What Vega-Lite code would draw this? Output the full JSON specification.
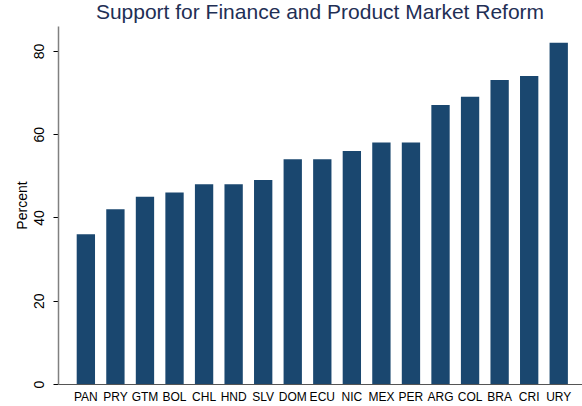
{
  "$schema": "https://vega.github.io/schema/vega-lite/v6.json",
  "autosize": "none",
  "width": 524,
  "height": 358,
  "padding": {"left": 58, "top": 26, "right": 0, "bottom": 22},
  "background": "white",
  "config": {"view": {"stroke": null}, "font": "Liberation Sans"},
  "title": {
    "text": "Support for Finance and Product Market Reform",
    "font": "Liberation Sans",
    "fontSize": 21,
    "fontWeight": "normal",
    "color": "#1f2f55",
    "anchor": "middle",
    "baseline": "alphabetic",
    "offset": 7,
    "dy": 21
  },
  "data": {
    "values": [
      {"country": "PAN", "percent": 36},
      {"country": "PRY", "percent": 42},
      {"country": "GTM", "percent": 45},
      {"country": "BOL", "percent": 46},
      {"country": "CHL", "percent": 48},
      {"country": "HND", "percent": 48},
      {"country": "SLV", "percent": 49},
      {"country": "DOM", "percent": 54},
      {"country": "ECU", "percent": 54},
      {"country": "NIC", "percent": 56},
      {"country": "MEX", "percent": 58},
      {"country": "PER", "percent": 58},
      {"country": "ARG", "percent": 67},
      {"country": "COL", "percent": 69},
      {"country": "BRA", "percent": 73},
      {"country": "CRI", "percent": 74},
      {"country": "URY", "percent": 82}
    ]
  },
  "mark": {"type": "bar", "color": "#1a476f"},
  "encoding": {
    "x": {
      "field": "country",
      "type": "nominal",
      "sort": null,
      "scale": {"paddingInner": 0.38, "paddingOuter": 0.555, "align": 0.57},
      "axis": {
        "title": null,
        "labelAngle": 0,
        "labelFontSize": 12,
        "labelColor": "#000000",
        "labelBaseline": "alphabetic",
        "labelPadding": 16,
        "ticks": false,
        "domainColor": "#555555",
        "domainWidth": 1.2
      }
    },
    "y": {
      "field": "percent",
      "type": "quantitative",
      "scale": {"domain": [0, 86], "nice": false},
      "axis": {
        "title": "Percent",
        "titleFontSize": 14,
        "titleFontWeight": "normal",
        "titleColor": "#000000",
        "titleAngle": -90,
        "titleBaseline": "alphabetic",
        "titleAlign": "center",
        "titleX": -32,
        "titleY": 179,
        "values": [0, 20, 40, 60, 80],
        "labelAngle": -90,
        "labelAlign": "center",
        "labelBaseline": "alphabetic",
        "labelPadding": 10,
        "labelFontSize": 14,
        "labelColor": "#000000",
        "tickSize": 5,
        "tickColor": "#000000",
        "domainColor": "#808080",
        "domainWidth": 1.5,
        "grid": false
      }
    }
  }
}
